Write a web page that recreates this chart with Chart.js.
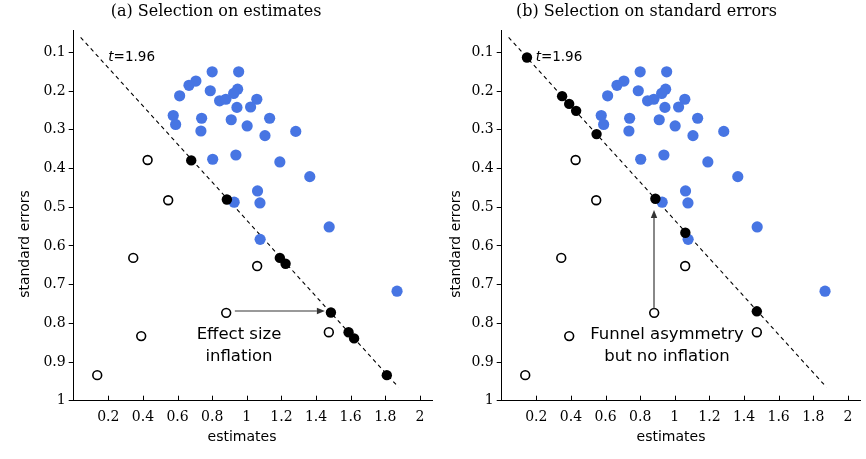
<!DOCTYPE html>
<html><head><meta charset="utf-8">
<script src="https://cdn.jsdelivr.net/npm/chart.js@4/dist/chart.umd.min.js"></script>
<style>
html,body{margin:0;padding:0;background:#fff;width:866px;height:459px;overflow:hidden}
.p{position:absolute;top:0;height:459px}
</style></head><body>
<div class="p" style="left:0;width:444px"><canvas id="a" width="444" height="459"></canvas></div>
<div class="p" style="left:433px;width:433px"><canvas id="b" width="433" height="459"></canvas></div>
<script>
// ---- data ----
const blueEstimates = [0.800,0.953,0.706,0.666,0.612,0.789,0.947,0.924,0.843,0.879,1.058,0.943,1.022,0.575,0.589,0.739,0.735,0.910,1.132,1.002,1.105,1.283,0.803,0.937,1.191,1.364,1.062,1.076,0.927,1.476,1.077,1.868];
const blueSE        = [0.150,0.150,0.174,0.185,0.212,0.199,0.195,0.206,0.225,0.221,0.221,0.242,0.241,0.263,0.286,0.270,0.303,0.274,0.270,0.290,0.315,0.304,0.376,0.365,0.383,0.421,0.458,0.489,0.487,0.551,0.583,0.717];
const openEstimates = [0.427,0.546,0.344,1.060,0.881,1.474,0.390,0.136];
const openSE        = [0.378,0.482,0.631,0.652,0.773,0.823,0.833,0.934];
const blackEstimatesA = [0.679,0.885,1.191,1.224,1.486,1.588,1.620,1.809];
const blackSEA        = [0.379,0.480,0.631,0.646,0.772,0.823,0.839,0.934];
const blackEstimatesB = [0.146,0.349,0.390,0.430,0.548,0.888,1.061,1.474];
const blackSEB        = [0.113,0.213,0.233,0.251,0.311,0.478,0.566,0.769];
const tLineEstimates = [0.040,1.876];
const tLineSE        = [0.061,0.965];
const estimateTicks = [0.2,0.4,0.6,0.8,1,1.2,1.4,1.6,1.8,2];
const estimateTickLabels = ['0.2','0.4','0.6','0.8','1','1.2','1.4','1.6','1.8','2'];
const seTicks = [0.1,0.2,0.3,0.4,0.5,0.6,0.7,0.8,0.9,1];
const seTickLabels = ['0.1','0.2','0.3','0.4','0.5','0.6','0.7','0.8','0.9','1'];
const titles = ['(a) Selection on estimates','(b) Selection on standard errors'];
const xAxisTitle = 'estimates';
const yAxisTitle = 'standard errors';
const tLabel = ['t','=1.96'];
const noteA = ['Effect size','inflation'];
const noteB = ['Funnel asymmetry','but no inflation'];

const pts = (xs, ys) => xs.map((x, i) => ({x, y: ys[i]}));
const BLUE = '#4775e3';

const decor = {
  id: 'decor',
  afterDatasetsDraw(chart, args, o) {
    const ctx = chart.ctx, xs = chart.scales.x, ys = chart.scales.y, ca = chart.chartArea;
    const X = v => xs.getPixelForValue(v), Y = v => ys.getPixelForValue(v);
    ctx.save();
    // inward x ticks
    ctx.strokeStyle = '#000'; ctx.lineWidth = 1;
    estimateTicks.forEach(v => {
      const px = Math.round(X(v)) + 0.5;
      ctx.beginPath(); ctx.moveTo(px, ca.bottom); ctx.lineTo(px, ca.bottom - 5); ctx.stroke();
    });
    // arrow
    const a = o.arrow;
    const x1 = X(a.from[0]), y1 = Y(a.from[1]), x2 = X(a.to[0]), y2 = Y(a.to[1]);
    const ang = Math.atan2(y2 - y1, x2 - x1), hl = 8, hw = 3.2;
    const bx = x2 - hl * Math.cos(ang), by = y2 - hl * Math.sin(ang);
    ctx.strokeStyle = a.color; ctx.lineWidth = a.width;
    ctx.beginPath(); ctx.moveTo(x1, y1); ctx.lineTo(bx, by); ctx.stroke();
    ctx.fillStyle = '#333';
    ctx.beginPath();
    ctx.moveTo(x2, y2);
    ctx.lineTo(bx + hw * Math.sin(ang), by - hw * Math.cos(ang));
    ctx.lineTo(bx - hw * Math.sin(ang), by + hw * Math.cos(ang));
    ctx.closePath(); ctx.fill();
    // note text
    ctx.fillStyle = '#000';
    ctx.font = '16.5px "DejaVu Sans"';
    ctx.textAlign = 'center'; ctx.textBaseline = 'middle';
    o.note.forEach((s, i) => ctx.fillText(s, X(o.notePos[0]), Y(o.notePos[1]) + i * 22));
    // t = 1.96 label
    ctx.textAlign = 'left';
    ctx.font = 'italic 13.5px "DejaVu Sans"';
    const tx = X(o.tPos[0]), ty = Y(o.tPos[1]);
    ctx.fillText(tLabel[0], tx, ty);
    const w = ctx.measureText(tLabel[0]).width;
    ctx.font = '13.5px "DejaVu Sans"';
    ctx.fillText(tLabel[1], tx + w, ty);
    // axis titles
    ctx.font = '14px "DejaVu Sans"';
    ctx.textAlign = 'center';
    ctx.fillText(xAxisTitle, o.xTitle[0], o.xTitle[1]);
    ctx.translate(o.yTitle[0], o.yTitle[1]); ctx.rotate(-Math.PI / 2);
    ctx.fillText(yAxisTitle, 0, 0);
    ctx.restore();
  }
};

function makeChart(id, title, blackX, blackY, yWidth, rightPad, extra) {
  return new Chart(document.getElementById(id), {
    type: 'scatter',
    data: {
      datasets: [
        {data: pts(blackX, blackY), backgroundColor: '#000', borderWidth: 0, pointRadius: 5.2},
        {data: pts(blueEstimates, blueSE), backgroundColor: BLUE, borderWidth: 0, pointRadius: 5.6},
        {data: pts(openEstimates, openSE), backgroundColor: '#fff', borderColor: '#000', borderWidth: 1.6, pointRadius: 4.4},
        {data: pts(tLineEstimates, tLineSE), showLine: true, borderColor: '#000', borderWidth: 1.1, borderDash: [4, 3.5], pointRadius: 0}
      ]
    },
    options: {
      responsive: false, animation: false, events: [],
      layout: {padding: {left: 0, right: rightPad, top: 0, bottom: 10}},
      plugins: {
        legend: {display: false}, tooltip: {enabled: false},
        title: {display: true, text: title, color: '#000',
          font: {family: '"DejaVu Serif"', size: 16, weight: 'normal', lineHeight: 1.2},
          padding: {top: 2, bottom: 8.8}},
        decor: extra
      },
      scales: {
        x: {type: 'linear', min: 0, max: 2.07,
          afterBuildTicks: s => { s.ticks = estimateTicks.map(v => ({value: v})); },
          afterFit: s => { s.height = 48.3; },
          ticks: {callback: (v, i) => estimateTickLabels[i], color: '#000', padding: 8,
            maxRotation: 0, autoSkip: false, font: {family: '"DejaVu Serif"', size: 14}},
          grid: {display: true, drawOnChartArea: false, drawTicks: false},
          border: {display: true, color: '#000', width: 1}},
        y: {type: 'linear', reverse: true, min: 0.042, max: 1,
          afterBuildTicks: s => { s.ticks = seTicks.map(v => ({value: v})); },
          afterFit: s => { s.width = yWidth; },
          ticks: {callback: (v, i) => seTickLabels[i], color: '#000', padding: 3,
            autoSkip: false, font: {family: '"DejaVu Serif"', size: 14}},
          grid: {display: true, drawOnChartArea: false, drawTicks: true, tickLength: 5, tickColor: '#000'},
          border: {display: true, color: '#000', width: 1}}
      }
    },
    plugins: [decor]
  });
}

makeChart('a', titles[0], blackEstimatesA, blackSEA, 73.7, 12, {
  arrow: {from: [0.931, 0.768], to: [1.451, 0.768], color: '#777', width: 1.5},
  note: noteA, notePos: [0.955, 0.830],
  tPos: [0.20, 0.113],
  xTitle: [242, 437], yTitle: [25, 244]
});
makeChart('b', titles[1], blackEstimatesB, blackSEB, 68.7, 6, {
  arrow: {from: [0.880, 0.761], to: [0.880, 0.507], color: '#888', width: 2},
  note: noteB, notePos: [0.955, 0.830],
  tPos: [0.196, 0.114],
  xTitle: [238, 437], yTitle: [23, 244]
});
</script>
</body></html>
